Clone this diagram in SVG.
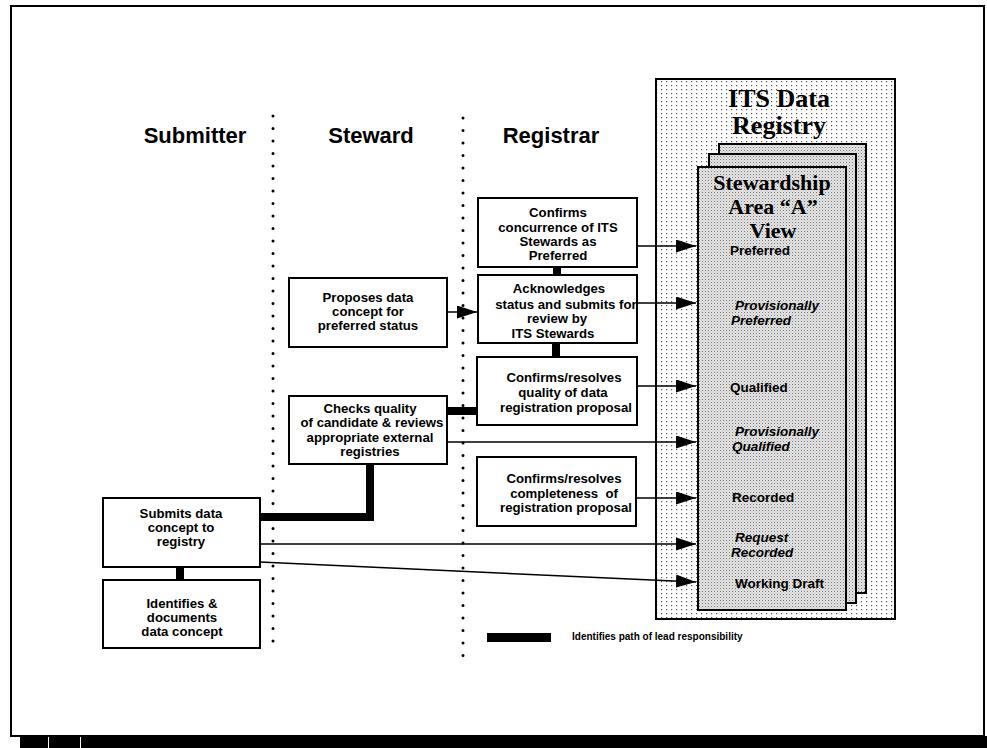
<svg xmlns="http://www.w3.org/2000/svg" width="987" height="748" viewBox="0 0 987 748">
<style>
.box{fill:#fff;stroke:#000;stroke-width:2}
.t{font-family:"Liberation Sans",Arial,sans-serif;font-weight:bold;font-size:13.2px;fill:#000;text-anchor:middle}
.hd{font-family:"Liberation Sans",Arial,sans-serif;font-weight:bold;font-size:22px;fill:#000;text-anchor:middle}
.lb{font-family:"Liberation Sans",Arial,sans-serif;font-weight:bold;font-size:13.5px;fill:#000}
.it{font-style:italic}
.sr{font-family:"Liberation Serif","Times New Roman",serif;font-weight:bold;fill:#000;text-anchor:middle}
.thin{fill:none;stroke:#000;stroke-width:1.5}
.thick{fill:none;stroke:#000;stroke-width:8}
.dots{stroke:#000;stroke-width:3;stroke-linecap:round;stroke-dasharray:0 12.5}
.page{fill:url(#half);stroke:#000;stroke-width:2}
</style>
<defs>
<pattern id="sparse" width="5" height="4" patternUnits="userSpaceOnUse">
<rect width="5" height="4" fill="#fff"/>
<rect x="1" y="1" width="1.2" height="1.2" fill="#555"/>
</pattern>
<pattern id="half" width="3" height="3" patternUnits="userSpaceOnUse">
<rect width="3" height="3" fill="#e4e4e4"/>
<rect x="0" y="0" width="1" height="1" fill="#7a7a7a"/>
<rect x="1.5" y="1.5" width="1" height="1" fill="#b4b4b4"/>
</pattern>
<marker id="ah" viewBox="0 0 20 13" refX="20" refY="6.5" markerWidth="20" markerHeight="13" markerUnits="userSpaceOnUse" orient="auto">
<path d="M0,0 L20,6.5 L0,13 z" fill="#000"/>
</marker>
</defs>
<rect width="987" height="748" fill="#fff"/>
<g id="frame">
<rect x="11" y="6" width="973" height="730" fill="none" stroke="#000" stroke-width="2"/>
<rect x="20" y="736" width="967" height="12" fill="#000"/>
<line x1="48.5" y1="737" x2="48.5" y2="748" stroke="#fff" stroke-width="1"/>
<line x1="80.5" y1="737" x2="80.5" y2="748" stroke="#fff" stroke-width="1"/>
</g>
<g id="lanes">
<text class="hd" x="195" y="143">Submitter</text>
<text class="hd" x="371" y="143">Steward</text>
<text class="hd" x="551" y="143">Registrar</text>
<line class="dots" x1="273" y1="116" x2="273" y2="645"/>
<line class="dots" x1="463" y1="118" x2="463" y2="656"/>
</g>
<g id="registry">
<rect x="656" y="79" width="239" height="540" fill="url(#sparse)" stroke="#000" stroke-width="2"/>
<text class="sr" x="779" y="107" font-size="26">ITS Data</text>
<text class="sr" x="779" y="134" font-size="26">Registry</text>
<rect class="page" x="719" y="144" width="147" height="449"/>
<rect class="page" x="709" y="154" width="147" height="449"/>
<rect class="page" x="698" y="167" width="148" height="443"/>
<text class="sr" x="772" y="190" font-size="22">Stewardship</text>
<text class="sr" x="773" y="214" font-size="22">Area “A”</text>
<text class="sr" x="773" y="238" font-size="22">View</text>
<text class="lb" x="730" y="255">Preferred</text>
<text class="lb it" x="735" y="310">Provisionally</text>
<text class="lb it" x="731" y="325">Preferred</text>
<text class="lb" x="730" y="392">Qualified</text>
<text class="lb it" x="735" y="436">Provisionally</text>
<text class="lb it" x="732" y="451">Qualified</text>
<text class="lb" x="732" y="502">Recorded</text>
<text class="lb it" x="735" y="542">Request</text>
<text class="lb it" x="731" y="557">Recorded</text>
<text class="lb" x="735" y="588">Working Draft</text>
</g>
<g id="connectors">
<line class="thick" x1="557" y1="267" x2="557" y2="275" stroke-width="7"/>
<line class="thick" x1="556" y1="343" x2="556" y2="357" stroke-width="7"/>
<line class="thick" x1="447" y1="411" x2="477" y2="411"/>
<path class="thick" d="M260,517 H370 V464"/>
<line class="thick" x1="180" y1="567" x2="180" y2="580" stroke-width="7"/>
<line class="thin" x1="447" y1="312" x2="477" y2="312" marker-end="url(#ah)"/>
<line class="thin" x1="637" y1="246" x2="696" y2="246" marker-end="url(#ah)"/>
<line class="thin" x1="637" y1="303" x2="696" y2="303" marker-end="url(#ah)"/>
<line class="thin" x1="637" y1="386" x2="696" y2="386" marker-end="url(#ah)"/>
<line class="thin" x1="447" y1="442" x2="696" y2="442" marker-end="url(#ah)"/>
<line class="thin" x1="636" y1="498" x2="696" y2="498" marker-end="url(#ah)"/>
<line class="thin" x1="260" y1="544" x2="696" y2="544" marker-end="url(#ah)"/>
<line class="thin" x1="260" y1="562" x2="696" y2="582" marker-end="url(#ah)"/>
</g>
<g id="r1">
<rect class="box" x="478" y="198" width="159" height="69"/>
<text class="t" x="558" y="217">Confirms</text>
<text class="t" x="558" y="232">concurrence of ITS</text>
<text class="t" x="558" y="246">Stewards as</text>
<text class="t" x="558" y="260">Preferred</text>
</g>
<g id="r2">
<rect class="box" x="478" y="275" width="159" height="68"/>
<text class="t" x="559" y="293">Acknowledges</text>
<text class="t" x="566" y="309">status and submits for</text>
<text class="t" x="557" y="323">review by</text>
<text class="t" x="553" y="338">ITS Stewards</text>
</g>
<g id="r3">
<rect class="box" x="477" y="357" width="160" height="68"/>
<text class="t" x="564" y="382">Confirms/resolves</text>
<text class="t" x="563" y="397">quality of data</text>
<text class="t" x="566" y="412">registration proposal</text>
</g>
<g id="r4">
<rect class="box" x="477" y="457" width="159" height="69"/>
<text class="t" x="564" y="483">Confirms/resolves</text>
<text class="t" x="564" y="498" xml:space="preserve">completeness  of</text>
<text class="t" x="566" y="512">registration proposal</text>
</g>
<g id="s1">
<rect class="box" x="289" y="278" width="158" height="69"/>
<text class="t" x="368" y="302">Proposes data</text>
<text class="t" x="368" y="316">concept for</text>
<text class="t" x="368" y="330">preferred status</text>
</g>
<g id="s2">
<rect class="box" x="289" y="396" width="158" height="68"/>
<text class="t" x="370" y="413">Checks quality</text>
<text class="t" x="372" y="427">of candidate &amp; reviews</text>
<text class="t" x="370" y="442">appropriate external</text>
<text class="t" x="370" y="456">registries</text>
</g>
<g id="u1">
<rect class="box" x="103" y="498" width="157" height="69"/>
<text class="t" x="181" y="518">Submits data</text>
<text class="t" x="181" y="532">concept to</text>
<text class="t" x="181" y="546">registry</text>
</g>
<g id="u2">
<rect class="box" x="103" y="580" width="157" height="68"/>
<text class="t" x="182" y="608">Identifies &amp;</text>
<text class="t" x="182" y="622">documents</text>
<text class="t" x="182" y="636">data concept</text>
</g>
<g id="legend">
<rect x="487" y="633" width="64" height="9" fill="#000"/>
<text x="572" y="640" font-family="'Liberation Sans',Arial,sans-serif" font-weight="bold" font-size="10">Identifies path of lead responsibility</text>
</g>
</svg>
